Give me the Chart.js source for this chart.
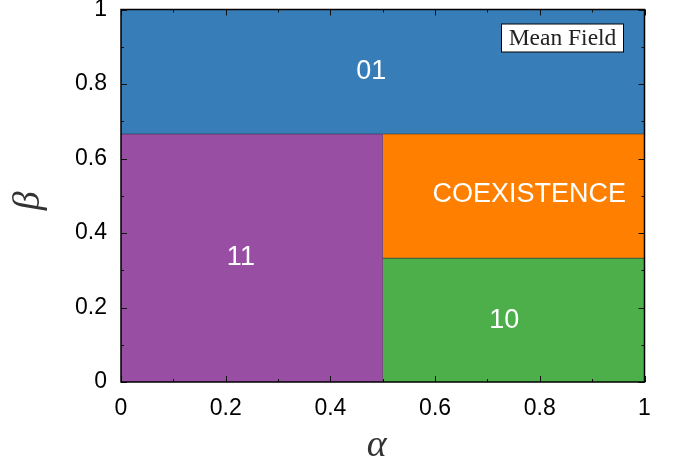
<!DOCTYPE html>
<html>
<head>
<meta charset="utf-8">
<title>Mean field phase diagram</title>
<script src="https://cdn.jsdelivr.net/npm/chart.js@4.4.1/dist/chart.umd.min.js"></script>
<style>
  html, body { margin: 0; padding: 0; background: #fff; }
  #wrap { width: 674px; height: 466px; }
</style>
</head>
<body>
<div id="wrap"><canvas id="phase" width="674" height="466"></canvas></div>
<script>
// phase regions (alpha range x beta range)
const regionNames = ['01', '11', 'COEXISTENCE', '10'];
const alphaFrom = [0, 0, 0.5, 0.5];
const alphaTo = [1, 0.5, 1, 1];
const betaFrom = [2 / 3, 0, 1 / 3, 0];
const betaTo = [1, 2 / 3, 2 / 3, 1 / 3];

// where each region name sits, in alpha/beta units
const labelAlpha = [0.478, 0.229, 0.78, 0.732];
const labelBeta = [0.833, 0.333, 0.503, 0.165];

// the one boundary that is not a region's top edge
const wallAlpha = [0.5, 0.5];
const wallBeta = [0, 2 / 3];

const axisTicks = [0, 0.2, 0.4, 0.6, 0.8, 1];
const legendText = 'Mean Field';
const xTitle = 'α';
const yTitle = 'β';

const regionColors = ['#377eb8', '#984ea3', '#ff7f00', '#4daf4a'];
const edgeColor = '#2b2b2b';
const serif = '"Liberation Serif", "Times New Roman", serif';
const sans = '"Liberation Sans", Arial, sans-serif';

const datasets = regionNames.map((name, i) => ({
    label: name,
    data: [{ x: alphaFrom[i], y: betaTo[i] }, { x: alphaTo[i], y: betaTo[i] }],
    showLine: true,
    fill: { value: betaFrom[i] },
    backgroundColor: regionColors[i],
    borderColor: edgeColor,
    borderWidth: 1.2,
    pointRadius: 0,
}));
datasets.push({
    label: 'wall',
    data: wallAlpha.map((a, i) => ({ x: a, y: wallBeta[i] })),
    showLine: true,
    fill: false,
    borderColor: edgeColor,
    borderWidth: 1.2,
    pointRadius: 0,
});

function isMajor(v) {
    return Math.round(v * 10) % 2 === 0;
}

function tickLabel(v) {
    const r = Math.round(v * 10) / 10;
    return axisTicks.includes(r) ? String(r) : '';
}

// frame, inward ticks on all four sides, region names, axis titles and the legend box
const decorations = {
    id: 'decorations',
    afterDatasetsDraw(chart) {
        const { ctx, chartArea: a, scales } = chart;
        ctx.save();

        ctx.fillStyle = '#fff';
        ctx.font = '27px ' + sans;
        ctx.textAlign = 'center';
        ctx.textBaseline = 'middle';
        regionNames.forEach((name, i) => {
            ctx.fillText(name, scales.x.getPixelForValue(labelAlpha[i]), scales.y.getPixelForValue(labelBeta[i]));
        });

        ctx.strokeStyle = '#111';
        ctx.lineWidth = 1;
        ctx.beginPath();
        scales.x.ticks.forEach(t => {
            const px = Math.round(scales.x.getPixelForValue(t.value)) + 0.5;
            const len = isMajor(t.value) ? 6 : 3;
            ctx.moveTo(px, a.bottom); ctx.lineTo(px, a.bottom - len);
            ctx.moveTo(px, a.top); ctx.lineTo(px, a.top + len);
        });
        scales.y.ticks.forEach(t => {
            const py = Math.round(scales.y.getPixelForValue(t.value)) + 0.5;
            const len = isMajor(t.value) ? 6 : 3;
            ctx.moveTo(a.left, py); ctx.lineTo(a.left + len, py);
            ctx.moveTo(a.right, py); ctx.lineTo(a.right - len, py);
        });
        ctx.stroke();

        ctx.lineWidth = 1.5;
        ctx.strokeStyle = '#000';
        ctx.strokeRect(a.left, a.top, a.right - a.left, a.bottom - a.top);

        // legend box
        const bw = 122, bh = 28;
        const bx = a.right - 21 - bw, by = a.top + 14.5;
        ctx.fillStyle = '#fff';
        ctx.fillRect(bx, by, bw, bh);
        ctx.lineWidth = 1;
        ctx.strokeRect(bx, by, bw, bh);
        ctx.fillStyle = '#222';
        ctx.font = '23.5px ' + serif;
        ctx.fillText(legendText, bx + bw / 2, by + bh / 2 + 1);

        // axis titles
        ctx.fillStyle = '#333';
        ctx.font = 'italic 38px ' + serif;
        ctx.fillText(xTitle, (a.left + a.right) / 2 - 6, a.bottom + 64);
        ctx.translate(29, (a.top + a.bottom) / 2 + 5);
        ctx.rotate(-Math.PI / 2);
        ctx.fillText(yTitle, 0, 0);

        ctx.restore();
    }
};

new Chart(document.getElementById('phase'), {
    type: 'scatter',
    data: { datasets },
    options: {
        responsive: false,
        animation: false,
        events: [],
        layout: { padding: { top: 9.5, right: 29.5, left: 0, bottom: 0 } },
        plugins: {
            legend: { display: false },
            tooltip: { enabled: false },
        },
        scales: {
            x: {
                type: 'linear',
                min: 0,
                max: 1,
                grid: { display: false, drawTicks: false },
                border: { display: false },
                ticks: {
                    stepSize: 0.1,
                    autoSkip: false,
                    maxRotation: 0,
                    padding: 13,
                    color: '#000',
                    font: { family: sans, size: 23 },
                    callback: tickLabel,
                },
                afterFit(scale) {
                    scale.height = 84;
                    scale.paddingLeft = 0;
                    scale.paddingRight = 0;
                },
            },
            y: {
                type: 'linear',
                min: 0,
                max: 1,
                grid: { display: false, drawTicks: false },
                border: { display: false },
                ticks: {
                    stepSize: 0.1,
                    autoSkip: false,
                    padding: 14,
                    color: '#000',
                    font: { family: sans, size: 23 },
                    callback: tickLabel,
                },
                afterFit(scale) {
                    scale.width = 121;
                    scale.paddingTop = 0;
                    scale.paddingBottom = 0;
                },
            },
        },
    },
    plugins: [decorations],
});
</script>
</body>
</html>
